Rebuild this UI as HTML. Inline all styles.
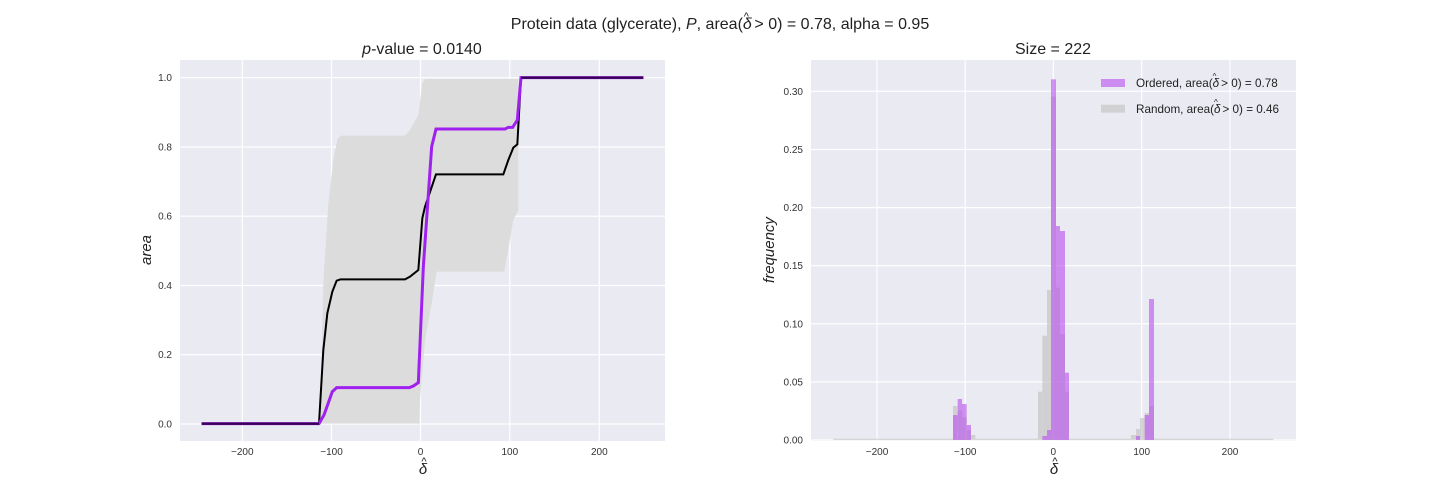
<!DOCTYPE html>
<html><head><meta charset="utf-8"><style>
html,body{margin:0;padding:0;background:#fff;}
svg{display:block;font-family:"Liberation Sans","DejaVu Sans",sans-serif;}
</style></head><body>
<svg width="1440" height="504" viewBox="0 0 1440 504" xmlns="http://www.w3.org/2000/svg">
<rect width="1440" height="504" fill="#fff"/>
<text x="720" y="29" font-size="16" text-anchor="middle" fill="#222">Protein data (glycerate), <tspan font-style="italic">P</tspan>, area(<tspan font-style="italic">δ</tspan><tspan dx="-8" dy="-9" font-size="11">^</tspan><tspan dx="1" dy="9"> &gt; 0) = 0.78, alpha = 0.95</tspan></text>

<!-- LEFT -->
<rect x="180" y="60" width="485" height="381" fill="#eaeaf2"/>
<g stroke="#fff" stroke-width="1.2">
<line x1="242.3" y1="60" x2="242.3" y2="441"/><line x1="331.5" y1="60" x2="331.5" y2="441"/>
<line x1="420.5" y1="60" x2="420.5" y2="441"/><line x1="509.8" y1="60" x2="509.8" y2="441"/>
<line x1="599.3" y1="60" x2="599.3" y2="441"/>
<line x1="180" y1="424" x2="665" y2="424"/><line x1="180" y1="354.7" x2="665" y2="354.7"/>
<line x1="180" y1="285.5" x2="665" y2="285.5"/><line x1="180" y1="216.2" x2="665" y2="216.2"/>
<line x1="180" y1="147" x2="665" y2="147"/><line x1="180" y1="77.7" x2="665" y2="77.7"/>
</g>
<g transform="translate(170,50) scale(0.33333)">
<polygon fill="#dcdcdc" points="450,1121 460,700 475,460 490,330 503,265 515,257 705,257 720,240 745,195 757,100 765,87 1045,87 1045,480 1030,510 1003,665 800,665 785,760 765,870 750,1050 748,1121"/>
<polyline fill="none" stroke="#000" stroke-width="6" points="95,1121 447,1121 460,900 472,790 487,725 500,692 512,688 705,688 720,680 745,660 757,505 765,470 782,420 798,373 1000,373 1015,330 1030,293 1042,283 1053,83 1420,83"/>
<polyline fill="none" stroke="#a020f0" stroke-width="9" points="95,1121 447,1121 462,1095 487,1025 500,1013 718,1013 730,1008 745,998 760,650 785,290 798,237 1005,237 1015,232 1028,232 1042,210 1053,83 1420,83"/>
<line x1="95" y1="1121" x2="447" y2="1121" stroke="#3a0058" stroke-width="7"/>
<line x1="1053" y1="83" x2="1420" y2="83" stroke="#3a0058" stroke-width="7"/>
</g>
<g font-size="10" fill="#333" text-anchor="middle">
<text x="242.3" y="455">−200</text><text x="331.5" y="455">−100</text><text x="420.5" y="455">0</text>
<text x="509.8" y="455">100</text><text x="599.3" y="455">200</text>
</g>
<g font-size="10" fill="#333" text-anchor="end">
<text x="172" y="427.5">0.0</text><text x="172" y="358">0.2</text><text x="172" y="289">0.4</text>
<text x="172" y="219.5">0.6</text><text x="172" y="150.5">0.8</text><text x="172" y="81">1.0</text>
</g>
<text x="422" y="54" font-size="16" text-anchor="middle" fill="#222"><tspan font-style="italic">p</tspan>-value = 0.0140</text>
<text x="423" y="474" font-size="15" text-anchor="middle" font-style="italic" fill="#222">δ</text>
<text x="424" y="465" font-size="11" text-anchor="middle" fill="#222">^</text>
<text transform="translate(151,250) rotate(-90)" font-size="15" text-anchor="middle" font-style="italic" fill="#222">area</text>

<!-- RIGHT -->
<rect x="811" y="60" width="485" height="381" fill="#eaeaf2"/>
<g stroke="#fff" stroke-width="1.2">
<line x1="877" y1="60" x2="877" y2="441"/><line x1="965.2" y1="60" x2="965.2" y2="441"/>
<line x1="1053.3" y1="60" x2="1053.3" y2="441"/><line x1="1141.7" y1="60" x2="1141.7" y2="441"/>
<line x1="1230" y1="60" x2="1230" y2="441"/>
<line x1="811" y1="440" x2="1296" y2="440"/><line x1="811" y1="381.9" x2="1296" y2="381.9"/>
<line x1="811" y1="323.8" x2="1296" y2="323.8"/><line x1="811" y1="265.7" x2="1296" y2="265.7"/>
<line x1="811" y1="207.6" x2="1296" y2="207.6"/><line x1="811" y1="149.5" x2="1296" y2="149.5"/>
<line x1="811" y1="91.3" x2="1296" y2="91.3"/>
</g>
<g transform="translate(800,50) scale(0.33333)">
<g fill="#bbbbbb" opacity="0.55">
<rect x="459" y="1068" width="14" height="102"/><rect x="473" y="1082" width="13" height="88"/>
<rect x="486" y="1102" width="14" height="68"/><rect x="500" y="1140" width="13" height="30"/>
<rect x="513" y="1155" width="13" height="15"/>
<rect x="714" y="1025" width="13" height="145"/><rect x="727" y="857" width="14" height="313"/>
<rect x="741" y="720" width="12" height="450"/><rect x="753" y="140" width="15" height="1030"/>
<rect x="768" y="713" width="12" height="457"/><rect x="780" y="852" width="15" height="318"/>
<rect x="795" y="1025" width="12" height="145"/>
<rect x="993" y="1155" width="15" height="15"/><rect x="1008" y="1137" width="12" height="33"/>
<rect x="1020" y="1104" width="14" height="66"/><rect x="1034" y="1089" width="13" height="81"/>
<rect x="1047" y="1068" width="15" height="102"/>
<rect x="100" y="1166" width="1320" height="4"/>
</g>
<g fill="#b94fee" opacity="0.6">
<rect x="459" y="1095" width="14" height="75"/><rect x="473" y="1047" width="13" height="123"/>
<rect x="486" y="1062" width="14" height="108"/><rect x="500" y="1125" width="13" height="45"/>
<rect x="727" y="1158" width="14" height="12"/><rect x="741" y="1140" width="12" height="30"/>
<rect x="753" y="88" width="15" height="1082"/><rect x="768" y="528" width="12" height="642"/>
<rect x="780" y="543" width="15" height="627"/><rect x="795" y="968" width="12" height="202"/>
<rect x="1008" y="1158" width="12" height="12"/><rect x="1034" y="1095" width="13" height="75"/>
<rect x="1047" y="747" width="15" height="423"/>
</g>
<rect x="903" y="87" width="72" height="24" fill="#b94fee" opacity="0.6"/>
<rect x="903" y="164" width="72" height="24" fill="#bbbbbb" opacity="0.55"/>
</g>
<g font-size="11.7" fill="#222">
<text x="1136" y="87">Ordered, area(<tspan font-style="italic">δ</tspan><tspan dx="-6.5" dy="-8" font-size="8">^</tspan><tspan dx="1.5" dy="8"> &gt; 0) = 0.78</tspan></text>
<text x="1136" y="113">Random, area(<tspan font-style="italic">δ</tspan><tspan dx="-6.5" dy="-8" font-size="8">^</tspan><tspan dx="1.5" dy="8"> &gt; 0) = 0.46</tspan></text>
</g>
<g font-size="10" fill="#333" text-anchor="middle">
<text x="877" y="455">−200</text><text x="965.2" y="455">−100</text><text x="1053.3" y="455">0</text>
<text x="1141.7" y="455">100</text><text x="1230" y="455">200</text>
</g>
<g font-size="10" fill="#333" text-anchor="end">
<text x="803" y="443.5">0.00</text><text x="803" y="385.5">0.05</text><text x="803" y="327.5">0.10</text>
<text x="803" y="269">0.15</text><text x="803" y="211">0.20</text><text x="803" y="153">0.25</text>
<text x="803" y="95">0.30</text>
</g>
<text x="1053" y="54" font-size="16" text-anchor="middle" fill="#222">Size = 222</text>
<text x="1054" y="474" font-size="15" text-anchor="middle" font-style="italic" fill="#222">δ</text>
<text x="1055" y="465" font-size="11" text-anchor="middle" fill="#222">^</text>
<text transform="translate(774,250) rotate(-90)" font-size="15" text-anchor="middle" font-style="italic" fill="#222">frequency</text>
</svg>
</body></html>
